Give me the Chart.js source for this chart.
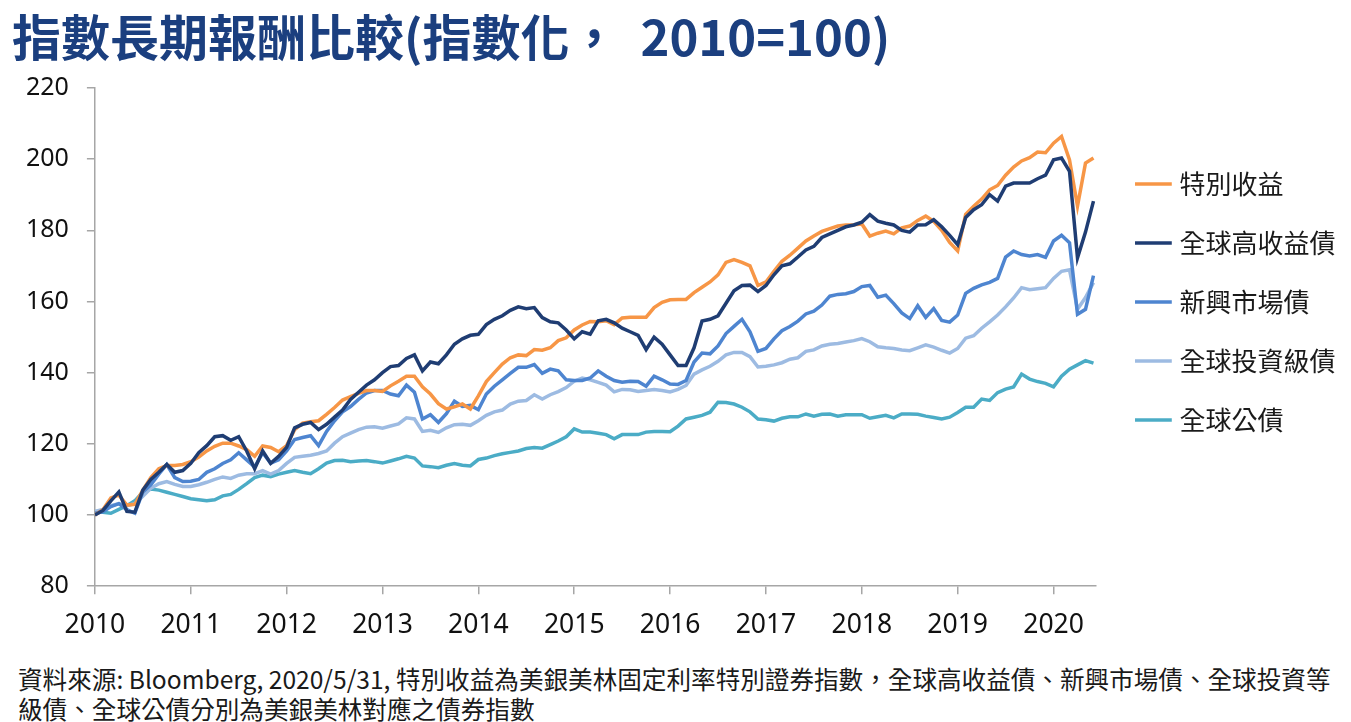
<!DOCTYPE html>
<html>
<head>
<meta charset="utf-8">
<script src="https://cdn.jsdelivr.net/npm/chart.js@4.4.1/dist/chart.umd.min.js"></script>
<style>
  body { margin: 0; background: #fff; width: 1351px; height: 722px; overflow: hidden; position: relative; }
  #title { position: absolute; left: 12px; top: 8px; font: bold 49px/54px "Noto Sans CJK TC", sans-serif; color: #1b3f7f; white-space: nowrap; }
  #title span { margin-left: 22px; }
  #box { position: absolute; left: 0; top: 55px; width: 1351px; height: 601px; }
  #note { position: absolute; left: 18px; top: 663px; font: 24.6px/30px "Noto Sans CJK TC", sans-serif; color: #1a1a1a; white-space: nowrap; }
</style>
</head>
<body>
<div id="title">指數長期報酬比較(指數化，<span>2010=100)</span></div>
<div id="box"><canvas id="chart-index"></canvas></div>
<div id="note">資料來源: Bloomberg, 2020/5/31, 特別收益為美銀美林固定利率特別證券指數，全球高收益債、新興市場債、全球投資等<br>級債、全球公債分別為美銀美林對應之債券指數</div>
<script>
// 月資料 (指數化, 2010=100), 第一點為 2010 起點, 最後一點為 2020/5
var startYear = 2010;
var seriesNames = ["特別收益", "全球高收益債", "新興市場債", "全球投資級債", "全球公債"];
var yearTicks = [2010, 2011, 2012, 2013, 2014, 2015, 2016, 2017, 2018, 2019, 2020];

var preferred = [
  100, 101.5, 104.8, 105.6, 102.8, 103, 107, 110.5, 113, 113.9, 113.9, 114.2,
  115, 116.3, 118, 119.3, 120.2, 120.2, 119.4, 118.4, 116.5, 119.4, 119, 117.8,
  119.5, 124, 125.8, 126.2, 126.5, 128.3, 130.2, 132.3, 133.3, 134.2, 135, 135,
  134.7, 136.3, 137.6, 139, 139, 136, 134, 131.3, 129.8, 130.4, 131.2, 129.8,
  133.5, 137.5, 140, 142.4, 144.2, 145, 144.8, 146.5, 146.3, 147, 149, 149.8,
  152, 153.4, 154.4, 154.3, 154.6, 153.5, 155.4, 155.6, 155.6, 155.6, 158.3, 159.8, 160.5,
  160.6, 160.6, 162.5, 164, 165.5, 167.5, 171, 171.8, 171, 170, 164.5, 165.5,
  168.5, 171.3, 173, 175, 177, 178.4, 179.7, 180.5, 181.2, 181.5, 181.6, 181.8,
  178.4, 179.2, 179.8, 179, 180.7, 181.2, 182.8, 184, 182.5, 180, 176.6, 174.2,
  184.5, 186.8, 188.8, 191.4, 192.6, 195.5, 197.8, 199.5, 200.4, 202, 201.8, 204.5,
  206.4, 199.8, 186.8, 198.9, 200.3
];
var globalHY = [
  100, 101.3, 104, 106.5, 101, 100.8, 107, 110, 112, 114.2, 112, 112.5,
  114.5, 117.5, 119.5, 122, 122.3, 121, 122, 118, 113, 118, 114.5, 116.5,
  119, 124.5, 125.5, 126, 124, 125.5, 127.5, 129.5, 132.5, 134.5, 136.5, 138,
  140, 141.7, 142, 144, 145, 140.5, 143, 142.5, 145, 148, 149.5, 150.5,
  150.8, 153.5, 155, 156, 157.5, 158.5, 158, 158.3, 155.5, 154.3, 154, 152,
  149.5, 151.5, 150.8, 154.6, 155, 154, 152.5, 151.5, 150.5, 146.5, 150, 148, 145,
  142, 142, 147, 154.5, 155, 156, 159.5, 163, 164.5, 164.6, 162.8, 164.5,
  167.5, 170, 170.6, 172.5, 174.5, 175.5, 178, 179, 180, 181, 181.5, 182.3,
  184.4, 182.6, 182, 181.5, 180, 179.5, 181.5, 181.6, 183, 181, 178.6, 176,
  183.6, 185.8, 187.2, 190, 188.2, 192.4, 193.3, 193.3, 193.3, 194.5, 195.5, 199.8,
  200.3, 196.6, 172.3, 179.5, 188.2
];
var emBond = [
  100.5, 100.9, 102.4, 103.2, 101.5, 100.5, 106.5, 108.5, 111.5, 114.2, 110.5, 109.4,
  109.5, 110, 112, 113, 114.5, 115.5, 117.5, 115.5, 113.5, 117.5, 114.6, 115.5,
  118, 121.2, 121.8, 122.3, 119.5, 123.5, 126.5, 129, 130.5, 132.5, 134.3, 135,
  135, 134, 133.5, 136.5, 134.5, 127, 128.2, 126, 128.5, 132, 130.5, 130.8,
  129.6, 134, 136.2, 138, 139.8, 141.5, 141.5, 142.3, 139.8, 141, 140.5, 138,
  137.8, 137.8, 138.5, 140.5, 139, 137.8, 137.3, 137.6, 137.5, 136.2, 139, 138, 136.8,
  136.7, 137.8, 143, 145.5, 145.3, 147.5, 151, 153, 155, 151.5, 146, 146.8,
  149.5, 151.8, 153, 154.5, 156.5, 157.3, 159, 161.5, 162, 162.2, 162.8, 164.2,
  164.5, 161.2, 161.8, 159.4, 156.8, 155.2, 158.8, 155.5, 158, 154.7, 154.2, 156.2,
  162.3, 163.7, 164.7, 165.4, 166.5, 172.5, 174.2, 173.2, 172.8, 173.2, 172.4, 177,
  178.6, 176.5, 156.4, 157.8, 167.3
];
var globalIG = [
  101, 101.6, 102.6, 103.2, 102.6, 103.2, 105.3, 107.5, 108.8, 109.4, 108.6, 108,
  108, 108.5, 109.2, 110, 110.7, 110.3, 111.2, 111.6, 111.6, 112.5, 111.5, 112.5,
  114.5, 116.2, 116.5, 116.8, 117.3, 118, 120.2, 122, 123, 124, 124.7, 124.8,
  124.4, 125, 125.6, 127.3, 127, 123.5, 123.8, 123.2, 124.5, 125.4, 125.5, 125.2,
  126.5, 128, 129, 129.5, 131.2, 132, 132.2, 133.8, 132.6, 133.8, 134.7, 135.8,
  137.6, 138.5, 138, 137.3, 136.5, 134.6, 135.3, 135.2, 134.7, 135, 135.3, 135, 134.6,
  135.3, 136.4, 139.6, 140.8, 141.8, 143.2, 145, 145.7, 145.7, 144.5, 141.6, 141.8,
  142.2, 142.8, 143.8, 144.2, 146, 146.4, 147.5, 148, 148.2, 148.6, 149, 149.6,
  148.7, 147.3, 147, 146.8, 146.4, 146.2, 147, 147.8, 147.2, 146.3, 145.5, 146.8,
  149.7, 150.4, 152.5, 154.3, 156.2, 158.5, 161, 163.9, 163.3, 163.6, 163.9, 166.5,
  168.5, 168.9, 157.8, 161.1, 165.3
];
var globalGov = [
  101, 100.8, 100.5, 101.6, 102.6, 104, 106.5, 107.3, 107, 106.4, 105.8, 105.2,
  104.6, 104.3, 104, 104.3, 105.4, 105.8, 107.2, 108.8, 110.5, 111.2, 110.8, 111.5,
  112, 112.5, 112, 111.6, 113, 114.6, 115.3, 115.4, 115, 115.2, 115.3, 115,
  114.6, 115.2, 115.8, 116.5, 116, 113.8, 113.6, 113.3, 114, 114.5, 114, 113.8,
  115.6, 116, 116.7, 117.2, 117.6, 118, 118.7, 119, 118.8, 119.8, 120.8, 122,
  124.2, 123.3, 123.3, 123, 122.6, 121.4, 122.6, 122.6, 122.6, 123.3, 123.5, 123.5, 123.4,
  125, 127, 127.5, 128, 128.9, 131.7, 131.6, 131.2, 130.3, 129, 127, 126.8,
  126.4, 127.2, 127.6, 127.6, 128.4, 127.8, 128.3, 128.4, 127.8, 128.2, 128.2, 128.2,
  127.2, 127.6, 128, 127.3, 128.4, 128.4, 128.3, 127.8, 127.4, 127, 127.5, 128.8,
  130.3, 130.3, 132.6, 132.2, 134.4, 135.4, 136, 139.6, 138.2, 137.5, 137, 136,
  139, 141, 142.2, 143.4, 142.7
];
var seriesColors = ["#f79646", "#1f3d73", "#4e85d0", "#9dbbe2", "#4bacc6"];

// 轉成 {x, y}, x 為年份 (每月 1/12)
function toPoints(arr) {
  return arr.map(function (v, i) { return { x: startYear + i / 12, y: v }; });
}

var allSeries = [preferred, globalHY, emBond, globalIG, globalGov];
var drawOrder = [1, 0, 2, 3, 4];
var lastX = startYear + (preferred.length - 1) / 12;

var ctx = document.getElementById("chart-index").getContext("2d");
var chartIndex = new Chart(ctx, {
  type: "line",
  data: {
    datasets: allSeries.map(function (arr, k) {
      return {
        label: seriesNames[k],
        data: toPoints(arr),
        borderColor: seriesColors[k],
        backgroundColor: seriesColors[k],
        borderWidth: 3.5,
        pointRadius: 0,
        tension: 0,
        order: drawOrder[k],
      };
    }),
  },
  options: {
    responsive: true,
    maintainAspectRatio: false,
    animation: false,
    layout: { padding: { top: 10, right: 5.6, left: 8, bottom: 0 } },
    scales: {
      x: {
        type: "linear",
        min: startYear,
        max: lastX + 0.02,
        grid: { drawOnChartArea: false, tickLength: 8, color: "#a6a6a6", lineWidth: 1.5 },
        border: { color: "#a6a6a6", width: 1.5 },
        afterBuildTicks: function (axis) {
          axis.ticks = yearTicks.map(function (y) { return { value: y }; });
        },
        ticks: {
          autoSkip: false,
          maxRotation: 0,
          padding: 15,
          color: "#111",
          font: { family: "Noto Sans", size: 26.5 },
          callback: function (v) { return String(v); },
        },
      },
      y: {
        min: 80,
        max: 220,
        grid: { drawOnChartArea: false, tickLength: 8, color: "#a6a6a6", lineWidth: 1.5 },
        border: { color: "#a6a6a6", width: 1.5 },
        ticks: {
          stepSize: 20,
          padding: 18,
          color: "#111",
          font: { family: "Noto Sans", size: 25 },
        },
      },
      // 圖區與圖例之間的空白
      spacer: {
        type: "linear",
        position: "right",
        display: true,
        grid: { display: false },
        border: { display: false },
        ticks: { display: false },
        afterFit: function (scale) { scale.width = 12; },
      },
    },
    plugins: {
      tooltip: { enabled: false },
      legend: {
        position: "right",
        align: "start",
        maxWidth: 320,
        title: { display: true, text: " ", padding: { top: 43, bottom: 0 }, font: { size: 25 } },
        labels: {
          usePointStyle: true,
          pointStyle: "line",
          boxWidth: 26,
          boxHeight: 26,
          padding: 33,
          color: "#1a1a1a",
          font: { family: "Noto Sans CJK TC", size: 26 },
          sort: function (a, b) { return a.datasetIndex - b.datasetIndex; },
        },
      },
    },
  },
});
</script>
</body>
</html>
